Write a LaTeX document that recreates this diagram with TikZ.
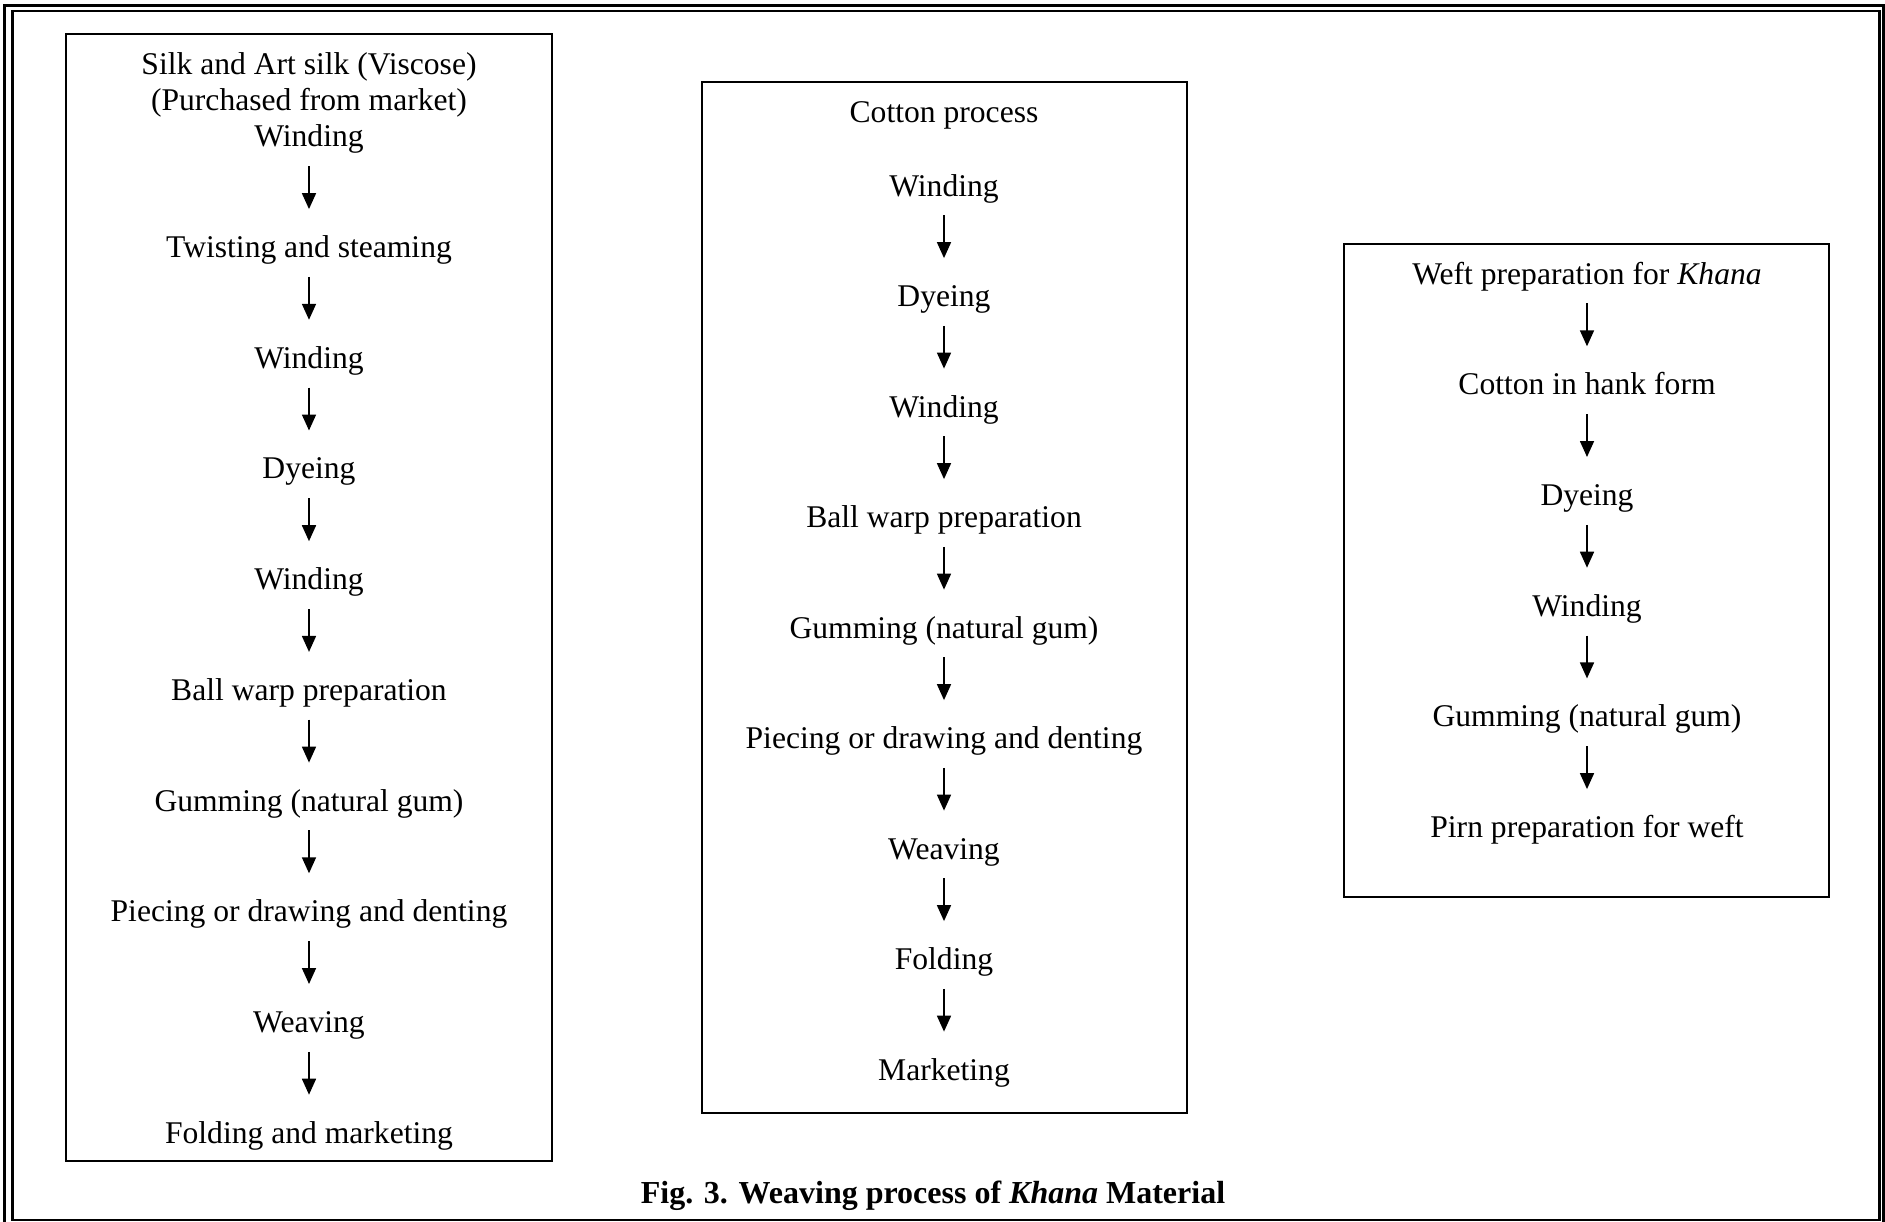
\documentclass[tikz,border=0pt]{standalone}
\usepackage{fontspec}
\setmainfont{Liberation Serif}
\usetikzlibrary{arrows.meta}

\tikzset{
  stage/.style={anchor=base, inner sep=0pt, text height=11pt, text depth=4pt},
  flow/.style={-{Triangle[width=7pt,length=8pt]}, line width=0.85pt,
    shorten <=5.5pt, shorten >=13pt},
  frame/.style={line width=1.2pt}
}

\begin{document}
\begin{tikzpicture}[x=0.5pt, y=-0.5pt, font=\fontsize{15.8}{19}\selectfont]
  \useasboundingbox (0,0) rectangle (1885,1221);

  % double border
  \draw[line width=1.5pt] (4.5,5) rectangle (1883,1232);
  \draw[line width=1.3pt] (12.5,11) rectangle (1879.5,1220);

  \draw[frame] (66,34) rectangle (552,1161);
  \draw[frame] (702,82) rectangle (1187,1113);
  \draw[frame] (1344,244) rectangle (1829,897);

  % silk
  \node[stage] (silk) at (309,74.7) {Silk and Art silk (Viscose)};
  \node[stage] (market) at (309,110.8) {(Purchased from market)};
  \foreach \t [count=\i] in {Winding, Twisting and steaming, Winding, Dyeing,
      Winding, Ball warp preparation, Gumming (natural gum),
      Piecing or drawing and denting, Weaving, Folding and marketing}
    \node[stage] (s\i) at (309,{146.8+110.7*(\i-1)}) {\t};
  \foreach \i [evaluate=\i as \j using int(\i+1)] in {1,...,9}
    \draw[flow] (s\i) -- (s\j);

  % cotton
  \node[stage] (cotton) at (944,122.8) {Cotton process};
  \foreach \t [count=\i] in {Winding, Dyeing, Winding, Ball warp preparation,
      Gumming (natural gum), Piecing or drawing and denting, Weaving,
      Folding, Marketing}
    \node[stage] (c\i) at (944,{196+110.5*(\i-1)}) {\t};
  \foreach \i [evaluate=\i as \j using int(\i+1)] in {1,...,8}
    \draw[flow] (c\i) -- (c\j);

  % weft
  \foreach \t [count=\i] in {Weft preparation for \textit{Khana},
      Cotton in hank form, Dyeing, Winding, Gumming (natural gum),
      Pirn preparation for weft}
    \node[stage] (w\i) at (1587,{284+110.7*(\i-1)}) {\t};
  \foreach \i [evaluate=\i as \j using int(\i+1)] in {1,...,5}
    \draw[flow] (w\i) -- (w\j);

  \node[stage, font=\fontsize{16}{19}\selectfont\bfseries] (caption) at (933,1203)
    {Fig. 3. Weaving process of \textit{Khana} Material};
\end{tikzpicture}
\end{document}
